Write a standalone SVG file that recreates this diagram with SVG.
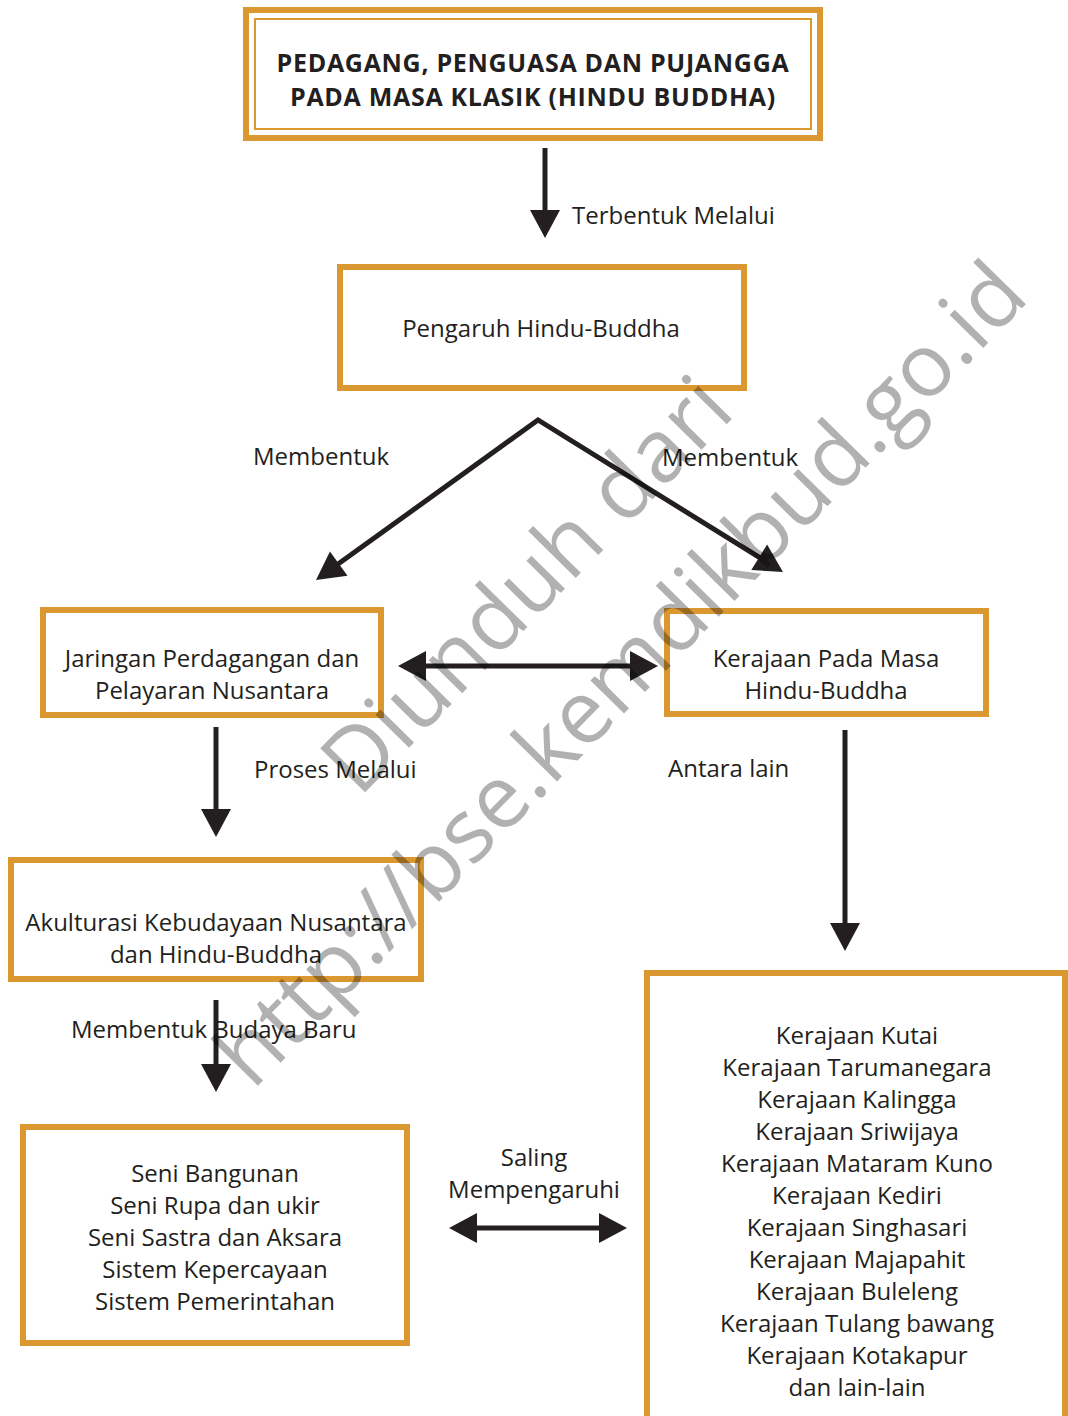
<svg xmlns="http://www.w3.org/2000/svg" width="1068" height="1416" viewBox="0 0 1068 1416">
<style>
.box{fill:#fff;stroke:#DB9830;stroke-width:6}
.thin{fill:none;stroke:#DB9830;stroke-width:2}
.t{font-family:"Open Sans","Noto Sans",sans-serif;font-size:24px;fill:#231f20}
.c{text-anchor:middle}
.b{font-weight:bold;font-size:25px;letter-spacing:0.7px}
.ln{fill:none;stroke:#231f20;stroke-width:5}
.wm{font-family:"Open Sans","Noto Sans",sans-serif;font-size:88px;fill:#000;opacity:0.3;text-anchor:middle}
</style>
<defs>
<marker id="ah" viewBox="-22 -16 32 32" refX="0" refY="0" markerWidth="32" markerHeight="32" markerUnits="userSpaceOnUse" orient="auto-start-reverse">
<path d="M8,0 L-20,-15 L-20,15Z" fill="#231f20"/>
</marker>
</defs>
<rect width="1068" height="1416" fill="#fff"/>
<g id="n-title">
<rect class="box" x="246" y="10" width="574" height="128"/>
<rect class="thin" x="255" y="19" width="556" height="110"/>
<text class="t c b" x="533" y="72">PEDAGANG, PENGUASA DAN PUJANGGA</text>
<text class="t c b" x="533" y="106">PADA MASA KLASIK (HINDU BUDDHA)</text>
</g>
<g id="n-pengaruh">
<rect class="box" x="340" y="267" width="404" height="121"/>
<text class="t c" x="541" y="337">Pengaruh Hindu-Buddha</text>
</g>
<g id="n-jaringan">
<rect class="box" x="43" y="610" width="338" height="105"/>
<text class="t c" x="212" y="667">Jaringan Perdagangan dan</text>
<text class="t c" x="212" y="699">Pelayaran Nusantara</text>
</g>
<g id="n-kerajaan">
<rect class="box" x="667" y="611" width="319" height="103"/>
<text class="t c" x="826" y="667">Kerajaan Pada Masa</text>
<text class="t c" x="826" y="699">Hindu-Buddha</text>
</g>
<g id="n-akulturasi">
<rect class="box" x="11" y="860" width="410" height="119"/>
<text class="t c" x="216" y="931">Akulturasi Kebudayaan Nusantara</text>
<text class="t c" x="216" y="963">dan Hindu-Buddha</text>
</g>
<g id="n-seni">
<rect class="box" x="23" y="1127" width="384" height="216"/>
<text class="t c" x="215" y="1182">Seni Bangunan</text>
<text class="t c" x="215" y="1214">Seni Rupa dan ukir</text>
<text class="t c" x="215" y="1246">Seni Sastra dan Aksara</text>
<text class="t c" x="215" y="1278">Sistem Kepercayaan</text>
<text class="t c" x="215" y="1310">Sistem Pemerintahan</text>
</g>
<g id="n-daftar">
<rect class="box" x="647" y="973" width="418" height="446"/>
<text class="t c" x="857" y="1044">Kerajaan Kutai</text>
<text class="t c" x="857" y="1076">Kerajaan Tarumanegara</text>
<text class="t c" x="857" y="1108">Kerajaan Kalingga</text>
<text class="t c" x="857" y="1140">Kerajaan Sriwijaya</text>
<text class="t c" x="857" y="1172">Kerajaan Mataram Kuno</text>
<text class="t c" x="857" y="1204">Kerajaan Kediri</text>
<text class="t c" x="857" y="1236">Kerajaan Singhasari</text>
<text class="t c" x="857" y="1268">Kerajaan Majapahit</text>
<text class="t c" x="857" y="1300">Kerajaan Buleleng</text>
<text class="t c" x="857" y="1332">Kerajaan Tulang bawang</text>
<text class="t c" x="857" y="1364">Kerajaan Kotakapur</text>
<text class="t c" x="857" y="1396">dan lain-lain</text>
</g>
<g id="connectors">
<path class="ln" d="M545,148 V230" marker-end="url(#ah)"/>
<text class="t" x="572" y="224">Terbentuk Melalui</text>
<path class="ln" d="M322.5,575.3 L538,420 L776.2,567.8" marker-start="url(#ah)" marker-end="url(#ah)"/>
<text class="t" x="253" y="465">Membentuk</text>
<text class="t" x="662" y="466">Membentuk</text>
<path class="ln" d="M406,666 H650" marker-start="url(#ah)" marker-end="url(#ah)"/>
<path class="ln" d="M216,727 V829" marker-end="url(#ah)"/>
<text class="t" x="254" y="778">Proses Melalui</text>
<path class="ln" d="M845,730 V943" marker-end="url(#ah)"/>
<text class="t" x="668" y="777">Antara lain</text>
<path class="ln" d="M216,1000 V1084" marker-end="url(#ah)"/>
<text class="t" x="71" y="1038">Membentuk Budaya Baru</text>
<path class="ln" d="M457,1228 H619" marker-start="url(#ah)" marker-end="url(#ah)"/>
<text class="t c" x="534" y="1166">Saling</text>
<text class="t c" x="534" y="1198">Mempengaruhi</text>
</g>
<g id="watermark">
<text class="wm" transform="translate(548,606) rotate(-45.5)">Diunduh dari</text>
<text class="wm" transform="translate(642,695) rotate(-45.5)">http://bse.kemdikbud.go.id</text>
</g>
</svg>
